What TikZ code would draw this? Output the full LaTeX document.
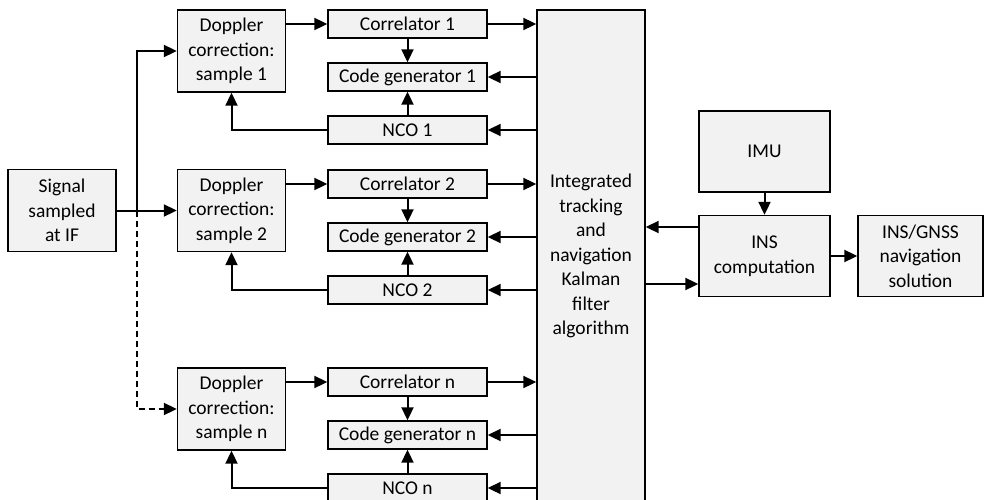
\documentclass[tikz,border=0pt]{standalone}
\usepackage{fontspec}
\setmainfont{Carlito}
\usetikzlibrary{arrows.meta}
\definecolor{boxfill}{HTML}{F2F2F2}
\tikzset{
  blk/.style={draw, fill=boxfill, line width=1.4pt, inner sep=0pt, align=center,
    font=\fontsize{19.5}{24.5}\selectfont},
  wide/.style={blk, minimum width=159pt, minimum height=28pt},
  dop/.style={blk, minimum width=108pt, minimum height=82pt},
  arr/.style={-{Triangle[length=13pt,width=12pt]}, line width=2pt},
}
\begin{document}
\begin{tikzpicture}[x=1pt,y=-1pt]
\useasboundingbox (0,0) rectangle (984,500);
\clip (0,0) rectangle (984,500);

% input
\node[dop] (sig) at (62,210.5) {Signal\\sampled\\at IF};

% channel 1
\node[dop] (d1) at (231.5,51) {Doppler\\correction:\\sample 1};
\node[wide] (c1) at (407.5,24) {Correlator 1};
\node[wide] (g1) at (407.5,77) {Code generator 1};
\node[wide] (n1) at (407.5,130) {NCO 1};

% channel 2
\node[dop] (d2) at (231.5,210.5) {Doppler\\correction:\\sample 2};
\node[wide] (c2) at (407.5,184) {Correlator 2};
\node[wide] (g2) at (407.5,237) {Code generator 2};
\node[wide] (n2) at (407.5,290) {NCO 2};

% channel n
\node[dop] (dn) at (231.5,409) {Doppler\\correction:\\sample n};
\node[wide] (cn) at (407.5,382) {Correlator n};
\node[wide] (gn) at (407.5,435) {Code generator n};
\node[wide] (nn) at (407.5,488) {NCO n};

% filter and inertial part
\node[blk, minimum width=108pt, minimum height=492pt] (kf) at (591,256)
  {Integrated\\tracking\\and\\navigation\\Kalman\\filter\\algorithm};
\node[blk, minimum width=131pt, minimum height=81pt] (imu) at (764.5,151.5) {IMU};
\node[blk, minimum width=131pt, minimum height=81pt] (ins) at (764.5,256) {INS\\computation};
\node[blk, minimum width=125pt, minimum height=81pt] (gnss) at (920.5,256) {INS/GNSS\\navigation\\solution};

% signal distribution
\coordinate (tap) at (137,0);
\draw[arr] (sig.east) -- (d2.west);
\draw[arr] (tap |- sig.east) |- (d1.west);
\draw[arr, dash pattern=on 6pt off 4pt] (tap |- sig.east) |- (dn.west);

% channel loops
\foreach \k in {1,2,n}{
  \draw[arr] (d\k.east |- c\k) -- (c\k.west);
  \draw[arr] (c\k.south) -- (g\k.north);
  \draw[arr] (n\k.north) -- (g\k.south);
  \draw[arr] (n\k.west) -| (d\k.south);
  \draw[arr] (c\k.east) -- (c\k.east -| kf.west);
  \draw[arr] (g\k.east -| kf.west) -- (g\k.east);
  \draw[arr] (n\k.east -| kf.west) -- (n\k.east);
}

% inertial links
\draw[arr] (imu.south) -- (ins.north);
\draw[arr] ([yshift=29pt]ins.west) -- ([yshift=29pt]ins.west -| kf.east);
\draw[arr] ([yshift=-28pt]ins.west -| kf.east) -- ([yshift=-28pt]ins.west);
\draw[arr] (ins.east) -- (gnss.west);
\end{tikzpicture}
\end{document}
